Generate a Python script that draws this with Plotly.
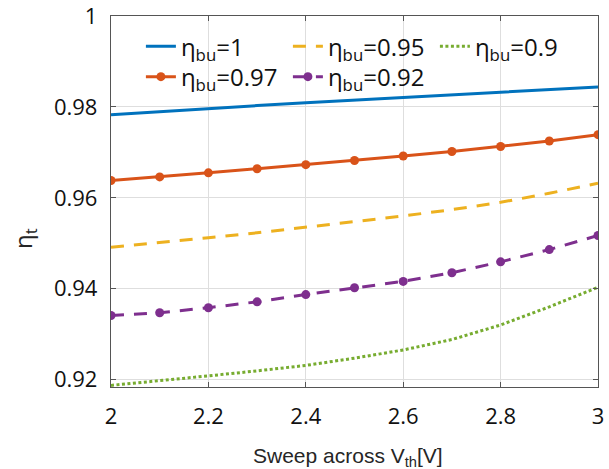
import plotly.graph_objects as go

# ---- data ----
vth = [2.0, 2.1, 2.2, 2.3, 2.4, 2.5, 2.6, 2.7, 2.8, 2.9, 3.0]
eta_bu_1    = [0.9783, 0.9790, 0.9797, 0.9803, 0.9809, 0.9815, 0.9821, 0.9827, 0.9833, 0.9839, 0.9844]
eta_bu_097  = [0.9638, 0.9646, 0.9655, 0.9664, 0.9673, 0.9682, 0.9692, 0.9702, 0.9713, 0.9725, 0.9739]
eta_bu_095  = [0.9491, 0.9501, 0.9512, 0.9523, 0.9535, 0.9547, 0.9560, 0.9574, 0.9590, 0.9610, 0.9632]
eta_bu_092  = [0.9341, 0.9347, 0.9358, 0.9371, 0.9387, 0.9402, 0.9416, 0.9435, 0.9459, 0.9486, 0.9517]
eta_bu_090  = [0.9187, 0.9197, 0.9208, 0.9219, 0.9231, 0.9247, 0.9265, 0.9288, 0.9320, 0.9360, 0.9403]

x_ticks = [2, 2.2, 2.4, 2.6, 2.8, 3]
x_tick_text = ["2", "2.2", "2.4", "2.6", "2.8", "3"]
y_ticks = [0.92, 0.94, 0.96, 0.98, 1.0]
y_tick_text = ["0.92", "0.94", "0.96", "0.98", "1"]

names = ["η<sub>bu</sub>=1", "η<sub>bu</sub>=0.97", "η<sub>bu</sub>=0.95",
         "η<sub>bu</sub>=0.92", "η<sub>bu</sub>=0.9"]
x_title = "Sweep across V<sub>th</sub>[V]"
y_title = "η<sub>t</sub>"

BLUE, RED, YEL, PUR, GRN = "#0072BD", "#D95319", "#EDB120", "#7E2F8E", "#77AC30"
FONT = "Open Sans, Noto Sans, sans-serif"

fig = go.Figure()
# legend: row1 = 1, 0.95, 0.9 (legend) ; row2 = 0.97, 0.92 (legend2)
fig.add_trace(go.Scatter(x=vth, y=eta_bu_1, mode="lines", name=names[0],
                         line=dict(color=BLUE, width=3), legend="legend"))
fig.add_trace(go.Scatter(x=vth, y=eta_bu_095, mode="lines", name=names[2],
                         line=dict(color=YEL, width=3, dash="13px,10px"), legend="legend"))
fig.add_trace(go.Scatter(x=vth, y=eta_bu_090, mode="lines", name=names[4],
                         line=dict(color=GRN, width=3, dash="3px,2.5px"), legend="legend"))
fig.add_trace(go.Scatter(x=vth, y=eta_bu_097, mode="lines+markers", name=names[1],
                         line=dict(color=RED, width=3),
                         marker=dict(color=RED, size=9), legend="legend2"))
fig.add_trace(go.Scatter(x=vth, y=eta_bu_092, mode="lines+markers", name=names[3],
                         line=dict(color=PUR, width=3, dash="13px,10px"),
                         marker=dict(color=PUR, size=9), legend="legend2"))

leg_common = dict(orientation="h", xanchor="left", yanchor="top",
                  bgcolor="rgba(0,0,0,0)", borderwidth=0,
                  font=dict(size=24, family=FONT, color="#111111"),
                  entrywidth=102, entrywidthmode="pixels", traceorder="normal")

fig.update_layout(
    width=609, height=469,
    margin=dict(l=111, r=11, t=16, b=81.5, autoexpand=False),
    paper_bgcolor="white", plot_bgcolor="white",
    font=dict(family=FONT, color="#262626"),
    showlegend=True,
    legend=dict(x=0.0614, y=0.978, **leg_common),
    legend2=dict(x=0.0614, y=0.896, **leg_common),
    xaxis=dict(range=[2, 3], tickvals=x_ticks, ticktext=x_tick_text,
               showgrid=True, gridcolor="#dedede", gridwidth=1,
               showline=True, linecolor="#555555", linewidth=1.3, mirror="ticks",
               ticks="inside", ticklen=5, tickcolor="#555555",
               tickfont=dict(size=22, family=FONT, color="#111111"),
               ticklabelstandoff=9, zeroline=False, automargin=False,
               ticklabeloverflow="allow"),
    yaxis=dict(range=[0.91835, 1.00002], tickvals=y_ticks, ticktext=y_tick_text,
               showgrid=True, gridcolor="#dedede", gridwidth=1,
               showline=True, linecolor="#555555", linewidth=1.3, mirror="ticks",
               ticks="inside", ticklen=5, tickcolor="#555555",
               tickfont=dict(size=22, family=FONT, color="#111111"),
               ticklabelstandoff=8, zeroline=False, automargin=False,
               ticklabeloverflow="allow"),
    annotations=[
        dict(text=y_title, textangle=-90, xref="paper", yref="paper",
             x=-0.18, y=0.40, xanchor="center", yanchor="middle",
             showarrow=False, font=dict(size=24, family=FONT, color="#262626")),
        dict(text=x_title, xref="paper", yref="paper",
             x=0.4867, y=-0.189, xanchor="center", yanchor="middle",
             showarrow=False,
             font=dict(size=21, family="Liberation Sans, Arial, sans-serif",
                       color="#262626")),
    ],
)

fig.write_html("out.html")
